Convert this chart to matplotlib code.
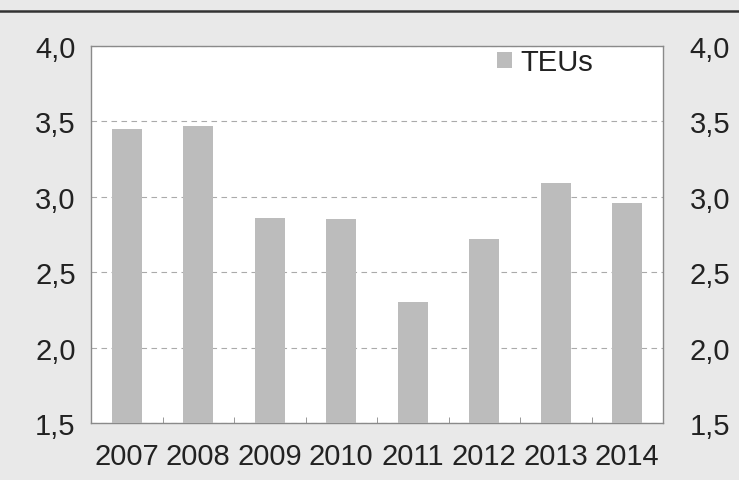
import matplotlib
matplotlib.use("Agg")
import matplotlib.pyplot as plt
from matplotlib.lines import Line2D
from matplotlib.patches import Patch
import numpy as np

years = ["2007", "2008", "2009", "2010", "2011", "2012", "2013", "2014"]
teus = [3.45, 3.47, 2.86, 2.85, 2.30, 2.72, 3.09, 2.96]
series_name = "TEUs"
yticks = [1.5, 2.0, 2.5, 3.0, 3.5, 4.0]
ytick_labels = ["1,5", "2,0", "2,5", "3,0", "3,5", "4,0"]

plt.rcParams['font.family'] = ['Liberation Sans', 'DejaVu Sans']

fig = plt.figure(figsize=(7.39, 4.81), dpi=100)
bg = "#e9e9e9"
fig.patch.set_facecolor(bg)
ax = fig.add_axes([91/739, 1-424/481, (663-91)/739, (424-46.5)/481])
ax.set_facecolor("white")

x = np.arange(len(years))
bar_color = "#bcbcbc"
ax.bar(x, teus, width=0.42, color=bar_color, bottom=0, zorder=3)
ax.set_ylim(1.5, 4.0)
ax.set_xlim(-0.5, len(years) - 0.5)

fs = 21
ax.set_yticks(yticks)
ax.set_yticklabels(ytick_labels, fontsize=fs, color="#222222")
ax.tick_params(axis="y", length=0, pad=11)
ax.set_xticks(x)
ax.set_xticklabels(years, fontsize=fs, color="#222222")
ax.tick_params(axis="x", which="major", length=0, pad=14)
ax.set_xticks(np.arange(len(years) + 1) - 0.5, minor=True)
ax.tick_params(axis="x", which="minor", direction="in", length=4, color="#888888")

ax.yaxis.grid(True, linestyle=(0, (5, 4)), color="#aaaaaa", linewidth=0.8, zorder=1)
ax.set_axisbelow(True)
for s in ax.spines.values():
    s.set_color("#8a8a8a")
    s.set_linewidth(1.0)

ax2 = ax.twinx()
ax2.set_ylim(1.5, 4.0)
ax2.set_yticks(yticks)
ax2.set_yticklabels(ytick_labels, fontsize=fs, color="#222222")
ax2.tick_params(axis="y", length=0, pad=19)
for s in ax2.spines.values():
    s.set_visible(False)

handle = Patch(facecolor=bar_color, edgecolor="none")
leg = ax.legend([handle], [series_name], loc="center left", bbox_to_anchor=(0.71, 0.955),
                frameon=False, fontsize=fs, handlelength=0.5, handleheight=0.5,
                handletextpad=0.3, borderpad=0, borderaxespad=0, labelcolor="#222222")

fig.add_artist(Line2D([0, 1], [1-12/481, 1-12/481], color="#333333", linewidth=1.8,
                      transform=fig.transFigure))

fig.savefig("out.png", dpi=100, facecolor=bg)
